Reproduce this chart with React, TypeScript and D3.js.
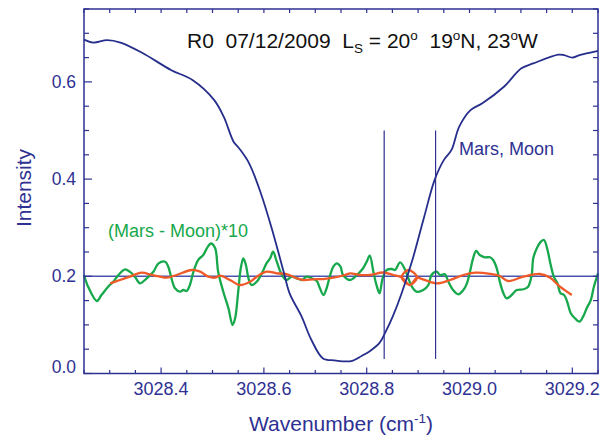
import React from 'react';
import * as d3 from 'd3';

type P = [number, number];

const marsMoon: P[] = [
  [3028.25, 0.687], [3028.268, 0.681], [3028.295, 0.686], [3028.321, 0.681], [3028.363, 0.66],
  [3028.42, 0.624], [3028.461, 0.604], [3028.503, 0.563], [3028.522, 0.528], [3028.541, 0.477],
  [3028.552, 0.463], [3028.571, 0.433], [3028.594, 0.371], [3028.616, 0.296], [3028.639, 0.207],
  [3028.65, 0.165], [3028.673, 0.118], [3028.692, 0.07], [3028.715, 0.031], [3028.737, 0.027],
  [3028.753, 0.025], [3028.772, 0.026], [3028.79, 0.036], [3028.806, 0.046], [3028.825, 0.063],
  [3028.836, 0.084], [3028.851, 0.118], [3028.868, 0.165], [3028.889, 0.234], [3028.912, 0.323],
  [3028.932, 0.398], [3028.95, 0.439], [3028.965, 0.46], [3028.98, 0.508], [3029.002, 0.542],
  [3029.025, 0.556], [3029.067, 0.59], [3029.101, 0.628], [3029.124, 0.638], [3029.173, 0.656],
  [3029.184, 0.655], [3029.2, 0.65], [3029.214, 0.655], [3029.25, 0.664],
];

const difference: P[] = [
  [3028.25, 0.2027], [3028.258, 0.1786], [3028.275, 0.1492], [3028.284, 0.1615], [3028.297, 0.1786],
  [3028.307, 0.1889], [3028.317, 0.2027], [3028.33, 0.2144], [3028.339, 0.2095], [3028.349, 0.1992],
  [3028.359, 0.1856], [3028.372, 0.1959], [3028.385, 0.2095], [3028.395, 0.2267], [3028.408, 0.23],
  [3028.414, 0.2198], [3028.421, 0.1924], [3028.427, 0.1753], [3028.437, 0.1683], [3028.443, 0.1718],
  [3028.45, 0.1698], [3028.456, 0.1821], [3028.463, 0.2095], [3028.472, 0.2335], [3028.482, 0.2438],
  [3028.489, 0.2576], [3028.497, 0.2675], [3028.505, 0.2582], [3028.511, 0.2095], [3028.521, 0.1683],
  [3028.531, 0.1342], [3028.539, 0.0998], [3028.544, 0.1136], [3028.55, 0.1683], [3028.555, 0.2165],
  [3028.56, 0.237], [3028.565, 0.2233], [3028.57, 0.1959], [3028.576, 0.1821], [3028.586, 0.1889],
  [3028.596, 0.2062], [3028.605, 0.2267], [3028.612, 0.237], [3028.618, 0.2506], [3028.625, 0.23],
  [3028.635, 0.2027], [3028.644, 0.1924], [3028.654, 0.1992], [3028.664, 0.1959], [3028.674, 0.1924],
  [3028.683, 0.1992], [3028.693, 0.1959], [3028.703, 0.1903], [3028.709, 0.1753], [3028.716, 0.1615],
  [3028.722, 0.1753], [3028.729, 0.2027], [3028.735, 0.2198], [3028.742, 0.2267], [3028.749, 0.2198],
  [3028.754, 0.2027], [3028.768, 0.1924], [3028.781, 0.2027], [3028.793, 0.2165], [3028.8, 0.23],
  [3028.806, 0.2424], [3028.813, 0.2095], [3028.819, 0.1821], [3028.825, 0.165], [3028.831, 0.1959],
  [3028.839, 0.213], [3028.849, 0.215], [3028.855, 0.213], [3028.865, 0.2288], [3028.875, 0.213],
  [3028.881, 0.1959], [3028.888, 0.1786], [3028.897, 0.1683], [3028.91, 0.1718], [3028.92, 0.1821],
  [3028.926, 0.2027], [3028.936, 0.2095], [3028.943, 0.2027], [3028.952, 0.2041], [3028.959, 0.1889],
  [3028.968, 0.1718], [3028.978, 0.163], [3028.988, 0.1718], [3028.995, 0.1856], [3029.001, 0.2095],
  [3029.007, 0.237], [3029.013, 0.2521], [3029.02, 0.2438], [3029.03, 0.2391], [3029.04, 0.2391],
  [3029.046, 0.2335], [3029.053, 0.2165], [3029.059, 0.1889], [3029.066, 0.165], [3029.072, 0.1547],
  [3029.082, 0.1615], [3029.092, 0.1718], [3029.105, 0.1733], [3029.114, 0.1786], [3029.121, 0.2027],
  [3029.124, 0.237], [3029.131, 0.2576], [3029.139, 0.2712], [3029.145, 0.2747], [3029.151, 0.2576],
  [3029.158, 0.2233], [3029.164, 0.1992], [3029.171, 0.1856], [3029.177, 0.165], [3029.184, 0.1615],
  [3029.19, 0.1477], [3029.197, 0.1239], [3029.205, 0.1136], [3029.214, 0.1066], [3029.221, 0.1169],
  [3029.228, 0.1342], [3029.236, 0.1512], [3029.242, 0.1786], [3029.25, 0.2062],
];

const smoothed: P[] = [
  [3028.301, 0.1856], [3028.32, 0.1924], [3028.339, 0.1992], [3028.362, 0.2074], [3028.382, 0.2027],
  [3028.398, 0.1992], [3028.411, 0.1971], [3028.43, 0.2027], [3028.46, 0.213], [3028.476, 0.2095],
  [3028.492, 0.1992], [3028.505, 0.1971], [3028.515, 0.2012], [3028.534, 0.1924], [3028.553, 0.1821],
  [3028.573, 0.1889], [3028.586, 0.1992], [3028.605, 0.2095], [3028.625, 0.2062], [3028.644, 0.2047],
  [3028.661, 0.1971], [3028.677, 0.1924], [3028.696, 0.1938], [3028.716, 0.1944], [3028.735, 0.1971],
  [3028.758, 0.2027], [3028.768, 0.2062], [3028.787, 0.2027], [3028.806, 0.2027], [3028.832, 0.2078],
  [3028.852, 0.2027], [3028.868, 0.1979], [3028.884, 0.1821], [3028.898, 0.1979], [3028.881, 0.213],
  [3028.868, 0.1979], [3028.884, 0.1821], [3028.898, 0.1979], [3028.904, 0.1959], [3028.936, 0.1856],
  [3028.962, 0.1924], [3028.988, 0.2027], [3029.011, 0.2074], [3029.04, 0.2051], [3029.059, 0.2006],
  [3029.075, 0.1903], [3029.105, 0.1992], [3029.137, 0.2047], [3029.157, 0.1971], [3029.176, 0.1786],
  [3029.199, 0.1615],
];

const markerLines = [3028.834, 3028.934];
const markerRange = [0.03, 0.5];
const baselineValue = 0.2;
const xMajorTicks = [3028.4, 3028.6, 3028.8, 3029.0, 3029.2];
const xTickLabels = ['3028.4', '3028.6', '3028.8', '3029.0', '3029.2'];
const yMajorTicks = [0.0, 0.2, 0.4, 0.6];
const yTickLabels = ['0.0', '0.2', '0.4', '0.6'];

const AXIS = '#2e3192';
const NAVY = '#262e8c';
const GREEN = '#16a84b';
const ORANGE = '#f05a28';
const BASE = '#4c55ad';
const FONT = 'Liberation Sans, Arial, Helvetica, sans-serif';

export default function App() {
  const W = 611, H = 436;
  const L = 84, R = 598, T = 9, B = 373.5;
  const x = d3.scaleLinear().domain([3028.25, 3029.25]).range([L, R]);
  const y = d3.scaleLinear().domain([0, 0.75]).range([B, T]);
  const line = d3.line<P>().x(d => x(d[0])).y(d => y(d[1])).curve(d3.curveCatmullRom.alpha(0.5));

  const xMinor = d3.range(0, 21).map(i => 3028.25 + i * 0.05);
  const yMinor = d3.range(0, 16).map(i => i * 0.05);
  const isMajorX = (v: number) => xMajorTicks.some(t => Math.abs(t - v) < 1e-6);
  const isMajorY = (v: number) => yMajorTicks.some(t => Math.abs(t - v) < 1e-6);

  return (
    <svg width={W} height={H} style={{ position: 'absolute', left: 0, top: 0 }} fontFamily={FONT}>
      <rect x={0} y={0} width={W} height={H} fill="#fff" />
      <line x1={L} x2={R} y1={y(baselineValue)} y2={y(baselineValue)} stroke={BASE} strokeWidth={1.6} />
      <path d={line(difference) || ''} fill="none" stroke={GREEN} strokeWidth={2.3} strokeLinejoin="round" />
      <path d={line(smoothed) || ''} fill="none" stroke={ORANGE} strokeWidth={2.3} strokeLinejoin="round" />
      <path d={line(marsMoon) || ''} fill="none" stroke={NAVY} strokeWidth={1.8} strokeLinejoin="round" />
      {markerLines.map((m, i) => (
        <line key={i} x1={x(m)} x2={x(m)} y1={y(markerRange[0])} y2={y(markerRange[1])} stroke={AXIS} strokeWidth={1.2} />
      ))}
      <rect x={L} y={T} width={R - L} height={B - T} fill="none" stroke={AXIS} strokeWidth={1.5} />
      {xMinor.map((v, i) => {
        const maj = isMajorX(v);
        return (
          <g key={'xt' + i}>
            <line x1={x(v)} x2={x(v)} y1={B} y2={B - (maj ? 6 : 3.5)} stroke={AXIS} strokeWidth={1.2} />
            <line x1={x(v)} x2={x(v)} y1={T} y2={T + 4} stroke={AXIS} strokeWidth={1.2} />
          </g>
        );
      })}
      {yMinor.map((v, i) => {
        const maj = isMajorY(v);
        return (
          <g key={'yt' + i}>
            <line x1={L} x2={L + (maj ? 8 : 5)} y1={y(v)} y2={y(v)} stroke={AXIS} strokeWidth={1.2} />
            <line x1={R} x2={R - 5} y1={y(v)} y2={y(v)} stroke={AXIS} strokeWidth={1.2} />
          </g>
        );
      })}
      {xMajorTicks.map((v, i) => (
        <text key={'xl' + i} x={x(v)} y={395} textAnchor="middle" fontSize={18} fill={AXIS}>{xTickLabels[i]}</text>
      ))}
      {yMajorTicks.map((v, i) => (
        <text key={'yl' + i} x={76} y={y(v) + (v === 0 ? -7 : 0)} dy="0.35em" textAnchor="end" fontSize={17.5} fill={AXIS}>{yTickLabels[i]}</text>
      ))}
      <text x={(L + R) / 2} y={431} textAnchor="middle" fontSize={21} fill={AXIS}>
        Wavenumber (cm<tspan fontSize={13.5} dy={-8}>-1</tspan><tspan dy={8}>)</tspan>
      </text>
      <text transform={`translate(31,188) rotate(-90)`} textAnchor="middle" fontSize={21} fill={AXIS}>Intensity</text>
      <text x={187} y={48} fontSize={21} fill="#111" style={{ whiteSpace: 'pre' }}>
        {'R0  07/12/2009  L'}<tspan fontSize={13.5} dy={5}>S</tspan><tspan dy={-5}>{' = 20'}</tspan><tspan fontSize={13.5} dy={-8}>o</tspan><tspan dy={8}>{'  19'}</tspan><tspan fontSize={13.5} dy={-8}>o</tspan><tspan dy={8}>{'N, 23'}</tspan><tspan fontSize={13.5} dy={-8}>o</tspan><tspan dy={8}>W</tspan>
      </text>
      <text x={459} y={155} fontSize={18} fill={AXIS}>Mars, Moon</text>
      <text x={108} y={237} fontSize={18} fill={GREEN}>(Mars - Moon)*10</text>
    </svg>
  );
}
